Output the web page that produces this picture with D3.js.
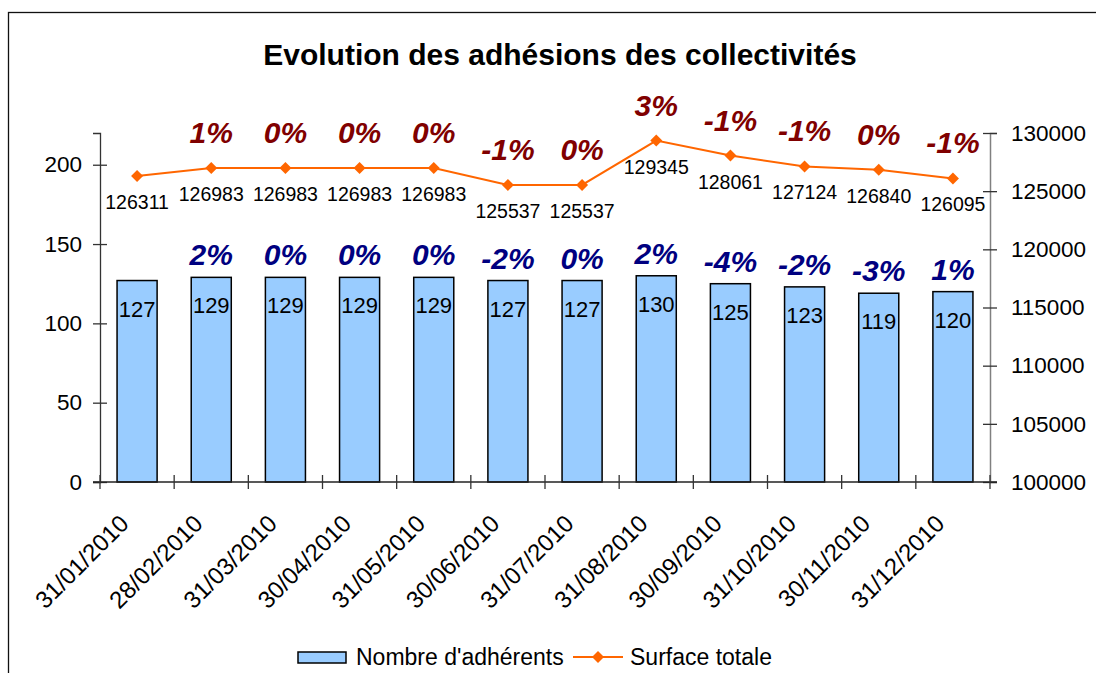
<!DOCTYPE html>
<html><head><meta charset="utf-8">
<script src="https://cdn.jsdelivr.net/npm/d3@7"></script>
<style>
body{margin:0;background:#fff;}
svg{display:block;font-family:"Liberation Sans",Arial,sans-serif;}
</style></head>
<body>
<svg id="c" width="1096" height="673"></svg>
<script>
const categories = ["31/01/2010","28/02/2010","31/03/2010","30/04/2010","31/05/2010","30/06/2010","31/07/2010","31/08/2010","30/09/2010","31/10/2010","30/11/2010","31/12/2010"];
const adherents = [127,129,129,129,129,127,127,130,125,123,119,120];
const adherentsPct = ["","2%","0%","0%","0%","-2%","0%","2%","-4%","-2%","-3%","1%"];
const surface = [126311,126983,126983,126983,126983,125537,125537,129345,128061,127124,126840,126095];
const surfacePct = ["","1%","0%","0%","0%","-1%","0%","3%","-1%","-1%","0%","-1%"];
const leftTicks = [0,50,100,150,200];
const rightTicks = [100000,105000,110000,115000,120000,125000,130000];

const svg = d3.select("#c");
// outer border
svg.append("rect").attr("x",8.5).attr("y",12.5).attr("width",1200).attr("height",800)
  .attr("fill","none").attr("stroke","#111").attr("stroke-width",1.3);

svg.append("text").attr("x",560).attr("y",65).attr("text-anchor","middle")
  .attr("font-size",30).attr("font-weight","bold").text("Evolution des adhésions des collectivités");

const L = 100, R = 990, B = 482, T = 133;
const x = d3.scaleBand().domain(categories).range([L,R]).paddingInner(0.46).paddingOuter(0.23);
const step = x.step();
const yL = d3.scaleLinear().domain([0,220]).range([B,T]);
const yR = d3.scaleLinear().domain([100000,130000]).range([B,T]);
const cx = d => x(d) + x.bandwidth()/2;

// bars
svg.append("g").selectAll("rect").data(categories).join("rect")
  .attr("x", d=>x(d)).attr("width", x.bandwidth())
  .attr("y", (d,i)=>yL(adherents[i])).attr("height",(d,i)=>B - yL(adherents[i]))
  .attr("fill","#99CCFF").attr("stroke","#000").attr("stroke-width",1.5);

// left axis
const gL = svg.append("g").attr("transform",`translate(${L},0)`)
  .call(d3.axisLeft(yL).tickValues(leftTicks).tickSize(7).tickPadding(11));
gL.select(".domain").attr("stroke","#333").attr("stroke-width",1.3);
gL.selectAll(".tick line").attr("x1",-7).attr("x2",7).attr("stroke","#333").attr("stroke-width",1.3);
gL.selectAll(".tick text").attr("font-size",22.5).attr("font-family","Liberation Sans, Arial").attr("fill","#000");

// right axis
const gR = svg.append("g").attr("transform",`translate(${R},0)`)
  .call(d3.axisRight(yR).tickValues(rightTicks).tickSize(7).tickPadding(14).tickFormat(d3.format("d")));
gR.select(".domain").attr("stroke","#808080").attr("stroke-width",1.5);
gR.selectAll(".tick line").attr("x1",-7).attr("x2",7).attr("stroke","#333").attr("stroke-width",1.3);
gR.selectAll(".tick text").attr("font-size",22.5).attr("font-family","Liberation Sans, Arial").attr("fill","#000");

// bottom axis
const gB = svg.append("g");
gB.append("line").attr("x1",L-7).attr("x2",R+7).attr("y1",B).attr("y2",B).attr("stroke","#222").attr("stroke-width",1.3);
gB.selectAll("line.t").data(d3.range(categories.length+1)).join("line").attr("class","t")
  .attr("x1",i=>L+i*step).attr("x2",i=>L+i*step).attr("y1",B-7).attr("y2",B+7)
  .attr("stroke","#333").attr("stroke-width",1.3);
gB.selectAll("text").data(categories).join("text")
  .attr("transform", d=>`translate(${cx(d)-7},${B+43}) rotate(-45)`)
  .attr("text-anchor","end").attr("font-size",24).text(d=>d);

// bar value labels
svg.append("g").selectAll("text").data(categories).join("text")
  .attr("x",cx).attr("y",(d,i)=>yL(adherents[i])+36).attr("text-anchor","middle")
  .attr("font-size",22).text((d,i)=>adherents[i]);
// bar pct labels
svg.append("g").selectAll("text").data(categories).join("text")
  .attr("x",cx).attr("y",(d,i)=>yL(adherents[i])-12).attr("text-anchor","middle")
  .attr("font-size",30).attr("font-weight","bold").attr("font-style","italic").attr("fill","#000080")
  .text((d,i)=>adherentsPct[i]);

// line
const line = d3.line().x((d,i)=>cx(categories[i])).y(d=>yR(d));
svg.append("path").datum(surface).attr("d",line).attr("fill","none").attr("stroke","#FF6600").attr("stroke-width",2);
const diamond = d3.symbol(d3.symbolSquare, 72);
svg.append("g").selectAll("path").data(surface).join("path")
  .attr("d",diamond).attr("transform",(d,i)=>`translate(${cx(categories[i])},${yR(d)}) rotate(45)`)
  .attr("fill","#FF6600");
svg.append("g").selectAll("text").data(surface).join("text")
  .attr("x",(d,i)=>cx(categories[i])).attr("y",d=>yR(d)+33).attr("text-anchor","middle")
  .attr("font-size",19.5).text(d=>d);
svg.append("g").selectAll("text").data(surface).join("text")
  .attr("x",(d,i)=>cx(categories[i])).attr("y",d=>yR(d)-25).attr("text-anchor","middle")
  .attr("font-size",30).attr("font-weight","bold").attr("font-style","italic").attr("fill","#800000")
  .text((d,i)=>surfacePct[i]);

// legend
const lg = svg.append("g");
lg.append("rect").attr("x",298).attr("y",652).attr("width",48).attr("height",11)
  .attr("fill","#99CCFF").attr("stroke","#000").attr("stroke-width",1.5);
lg.append("text").attr("x",356).attr("y",665).attr("font-size",23).text("Nombre d'adhérents");
lg.append("line").attr("x1",573).attr("x2",623).attr("y1",657).attr("y2",657).attr("stroke","#FF6600").attr("stroke-width",2);
lg.append("path").attr("d",diamond).attr("transform","translate(598,657) rotate(45)").attr("fill","#FF6600");
lg.append("text").attr("x",630).attr("y",665).attr("font-size",23).text("Surface totale");
</script>
</body></html>
